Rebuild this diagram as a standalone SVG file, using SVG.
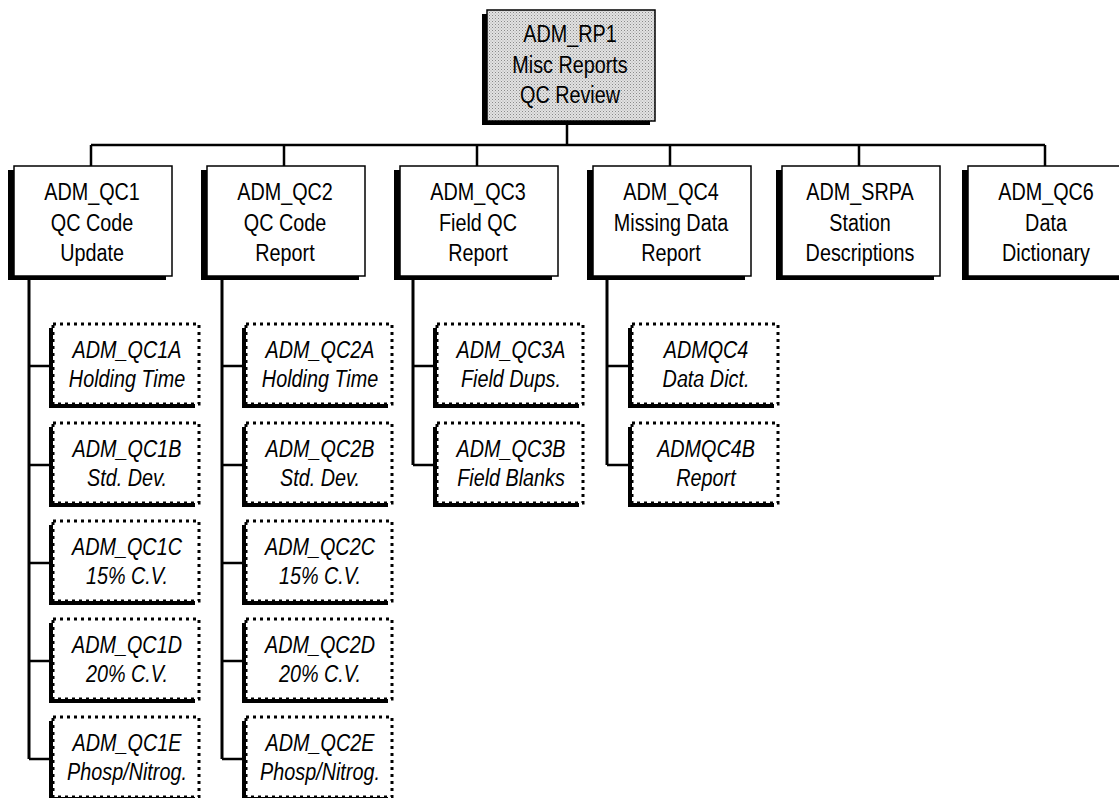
<svg xmlns="http://www.w3.org/2000/svg" width="1119" height="798" viewBox="0 0 1119 798">
<style>
.t{font-family:"Liberation Sans",Arial,sans-serif;font-size:23px;fill:#000;text-anchor:middle}
.i{font-style:italic}
.sh{fill:#000}
.b1{fill:#fff;stroke:#000;stroke-width:1.5}
.b2{fill:#fff;stroke:#000;stroke-width:3;stroke-dasharray:3 4}
.c{stroke:#000;stroke-width:2.5;fill:none}
.v{stroke:#000;stroke-width:3;fill:none}
</style>
<defs>
<pattern id="stip" width="3" height="3" patternUnits="userSpaceOnUse">
<rect width="3" height="3" fill="#e2e2e2"/>
<rect x="0" y="0" width="1" height="1" fill="#8a8a8a"/>
<rect x="1.5" y="1.5" width="1" height="1" fill="#a8a8a8"/>
</pattern>
</defs>
<rect width="1119" height="798" fill="#fff"/>

<g id="connectors">
<path class="c" d="M567 121V145M91 145H1045M91 145V166M284 145V166M477 145V166M670 145V166M859 145V166M1045 145V166"/>
<path class="v" d="M29 280V759M222 280V759M413 280V465M607 280V465"/>
<path class="c" d="M29 366H49M29 465H49M29 563H49M29 661H49M29 759H49"/>
<path class="c" d="M222 366H242M222 465H242M222 563H242M222 661H242M222 759H242"/>
<path class="c" d="M413 366H433M413 465H433"/>
<path class="c" d="M607 366H628M607 465H628"/>
</g>

<g id="ADM_RP1">
<rect class="sh" x="482" y="14" width="168" height="111"/>
<rect x="487" y="10" width="168" height="111" fill="url(#stip)" stroke="#000" stroke-width="1.5"/>
<text class="t" transform="translate(570 0) scale(0.86 1)"><tspan x="0" y="42">ADM_RP1</tspan><tspan x="0" y="73">Misc Reports</tspan><tspan x="0" y="103">QC Review</tspan></text>
</g>

<g id="ADM_QC1">
<rect class="sh" x="8" y="170" width="158" height="110"/>
<rect class="b1" x="14" y="166" width="158" height="110"/>
<text class="t" transform="translate(92 0) scale(0.86 1)"><tspan x="0" y="200.5">ADM_QC1</tspan><tspan x="0" y="231">QC Code</tspan><tspan x="0" y="261">Update</tspan></text>
</g>
<g id="ADM_QC2">
<rect class="sh" x="201" y="170" width="158" height="110"/>
<rect class="b1" x="207" y="166" width="158" height="110"/>
<text class="t" transform="translate(285 0) scale(0.86 1)"><tspan x="0" y="200.5">ADM_QC2</tspan><tspan x="0" y="231">QC Code</tspan><tspan x="0" y="261">Report</tspan></text>
</g>
<g id="ADM_QC3">
<rect class="sh" x="394" y="170" width="158" height="110"/>
<rect class="b1" x="400" y="166" width="158" height="110"/>
<text class="t" transform="translate(478 0) scale(0.86 1)"><tspan x="0" y="200.5">ADM_QC3</tspan><tspan x="0" y="231">Field QC</tspan><tspan x="0" y="261">Report</tspan></text>
</g>
<g id="ADM_QC4">
<rect class="sh" x="587" y="170" width="158" height="110"/>
<rect class="b1" x="593" y="166" width="158" height="110"/>
<text class="t" transform="translate(671 0) scale(0.86 1)"><tspan x="0" y="200.5">ADM_QC4</tspan><tspan x="0" y="231">Missing Data</tspan><tspan x="0" y="261">Report</tspan></text>
</g>
<g id="ADM_SRPA">
<rect class="sh" x="776" y="170" width="158" height="110"/>
<rect class="b1" x="782" y="166" width="158" height="110"/>
<text class="t" transform="translate(860 0) scale(0.86 1)"><tspan x="0" y="200.5">ADM_SRPA</tspan><tspan x="0" y="231">Station</tspan><tspan x="0" y="261">Descriptions</tspan></text>
</g>
<g id="ADM_QC6">
<rect class="sh" x="962" y="170" width="158" height="110"/>
<rect class="b1" x="968" y="166" width="158" height="110"/>
<text class="t" transform="translate(1046 0) scale(0.86 1)"><tspan x="0" y="200.5">ADM_QC6</tspan><tspan x="0" y="231">Data</tspan><tspan x="0" y="261">Dictionary</tspan></text>
</g>

<!-- QC1 children -->
<g id="ADM_QC1A"><rect class="sh" x="49" y="328" width="146" height="80"/><rect class="b2" x="53" y="324" width="146" height="80"/>
<text class="t i" transform="translate(127 0) scale(0.86 1)"><tspan x="0" y="358">ADM_QC1A</tspan><tspan x="0" y="387">Holding Time</tspan></text></g>
<g id="ADM_QC1B"><rect class="sh" x="49" y="427" width="146" height="80"/><rect class="b2" x="53" y="423" width="146" height="80"/>
<text class="t i" transform="translate(127 0) scale(0.86 1)"><tspan x="0" y="457">ADM_QC1B</tspan><tspan x="0" y="486">Std. Dev.</tspan></text></g>
<g id="ADM_QC1C"><rect class="sh" x="49" y="525" width="146" height="80"/><rect class="b2" x="53" y="521" width="146" height="80"/>
<text class="t i" transform="translate(127 0) scale(0.86 1)"><tspan x="0" y="555">ADM_QC1C</tspan><tspan x="0" y="584">15% C.V.</tspan></text></g>
<g id="ADM_QC1D"><rect class="sh" x="49" y="623" width="146" height="80"/><rect class="b2" x="53" y="619" width="146" height="80"/>
<text class="t i" transform="translate(127 0) scale(0.86 1)"><tspan x="0" y="653">ADM_QC1D</tspan><tspan x="0" y="682">20% C.V.</tspan></text></g>
<g id="ADM_QC1E"><rect class="sh" x="49" y="721" width="146" height="80"/><rect class="b2" x="53" y="717" width="146" height="80"/>
<text class="t i" transform="translate(127 0) scale(0.86 1)"><tspan x="0" y="751">ADM_QC1E</tspan><tspan x="0" y="780">Phosp/Nitrog.</tspan></text></g>

<!-- QC2 children -->
<g id="ADM_QC2A"><rect class="sh" x="242" y="328" width="146" height="80"/><rect class="b2" x="246" y="324" width="146" height="80"/>
<text class="t i" transform="translate(320 0) scale(0.86 1)"><tspan x="0" y="358">ADM_QC2A</tspan><tspan x="0" y="387">Holding Time</tspan></text></g>
<g id="ADM_QC2B"><rect class="sh" x="242" y="427" width="146" height="80"/><rect class="b2" x="246" y="423" width="146" height="80"/>
<text class="t i" transform="translate(320 0) scale(0.86 1)"><tspan x="0" y="457">ADM_QC2B</tspan><tspan x="0" y="486">Std. Dev.</tspan></text></g>
<g id="ADM_QC2C"><rect class="sh" x="242" y="525" width="146" height="80"/><rect class="b2" x="246" y="521" width="146" height="80"/>
<text class="t i" transform="translate(320 0) scale(0.86 1)"><tspan x="0" y="555">ADM_QC2C</tspan><tspan x="0" y="584">15% C.V.</tspan></text></g>
<g id="ADM_QC2D"><rect class="sh" x="242" y="623" width="146" height="80"/><rect class="b2" x="246" y="619" width="146" height="80"/>
<text class="t i" transform="translate(320 0) scale(0.86 1)"><tspan x="0" y="653">ADM_QC2D</tspan><tspan x="0" y="682">20% C.V.</tspan></text></g>
<g id="ADM_QC2E"><rect class="sh" x="242" y="721" width="146" height="80"/><rect class="b2" x="246" y="717" width="146" height="80"/>
<text class="t i" transform="translate(320 0) scale(0.86 1)"><tspan x="0" y="751">ADM_QC2E</tspan><tspan x="0" y="780">Phosp/Nitrog.</tspan></text></g>

<!-- QC3 children -->
<g id="ADM_QC3A"><rect class="sh" x="433" y="328" width="146" height="80"/><rect class="b2" x="437" y="324" width="146" height="80"/>
<text class="t i" transform="translate(511 0) scale(0.86 1)"><tspan x="0" y="358">ADM_QC3A</tspan><tspan x="0" y="387">Field Dups.</tspan></text></g>
<g id="ADM_QC3B"><rect class="sh" x="433" y="427" width="146" height="80"/><rect class="b2" x="437" y="423" width="146" height="80"/>
<text class="t i" transform="translate(511 0) scale(0.86 1)"><tspan x="0" y="457">ADM_QC3B</tspan><tspan x="0" y="486">Field Blanks</tspan></text></g>

<!-- QC4 children -->
<g id="ADMQC4"><rect class="sh" x="628" y="328" width="146" height="80"/><rect class="b2" x="632" y="324" width="146" height="80"/>
<text class="t i" transform="translate(706 0) scale(0.86 1)"><tspan x="0" y="358">ADMQC4</tspan><tspan x="0" y="387">Data Dict.</tspan></text></g>
<g id="ADMQC4B"><rect class="sh" x="628" y="427" width="146" height="80"/><rect class="b2" x="632" y="423" width="146" height="80"/>
<text class="t i" transform="translate(706 0) scale(0.86 1)"><tspan x="0" y="457">ADMQC4B</tspan><tspan x="0" y="486">Report</tspan></text></g>
</svg>
